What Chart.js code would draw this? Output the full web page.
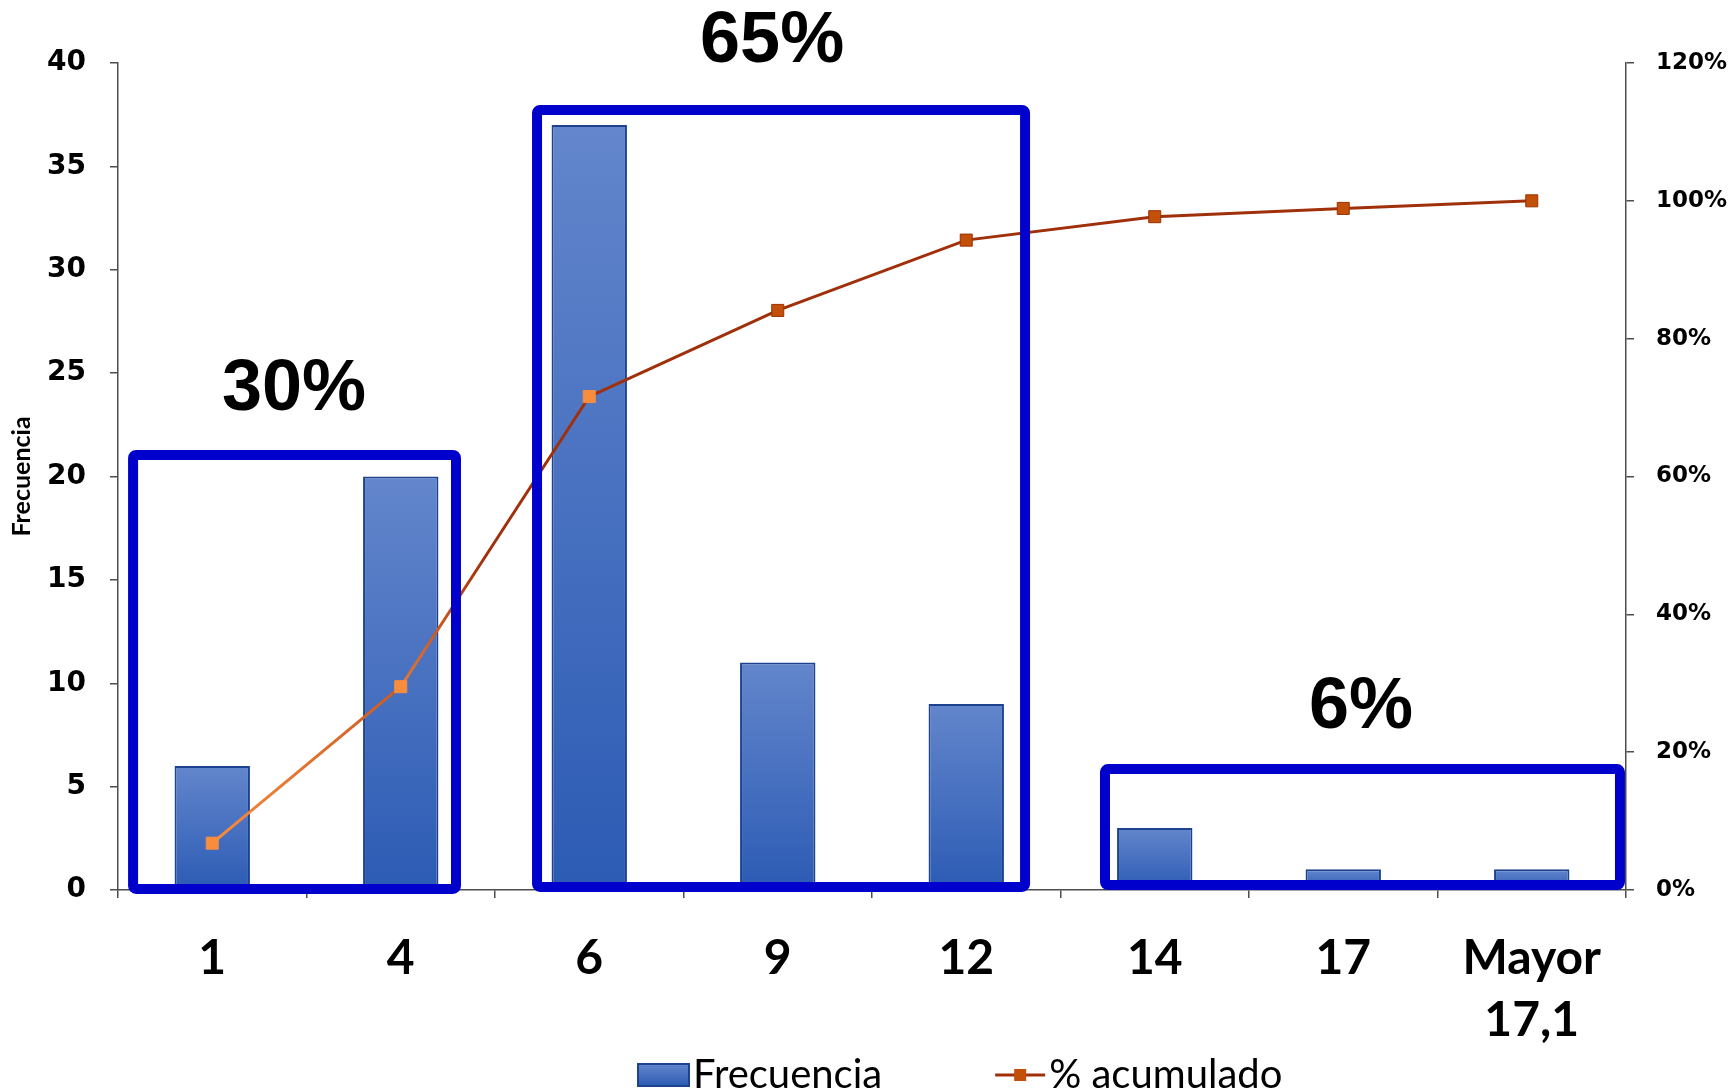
<!DOCTYPE html>
<html>
<head>
<meta charset="utf-8">
<script src="https://cdn.jsdelivr.net/npm/chart.js@4.4.1/dist/chart.umd.min.js"></script>
<style>
    html, body { margin: 0; padding: 0; background: #fff; }
</style>
</head>
<body>
<canvas id="pareto" width="1731" height="1091"></canvas>
<script>
// Datos del histograma
const clases = ['1', '4', '6', '9', '12', '14', '17', ['Mayor', '17,1']];
const frecuencia = [6, 20, 37, 11, 9, 3, 1, 1];
const acumulado = [0.068, 0.295, 0.716, 0.841, 0.943, 0.977, 0.989, 1.0];

// Escalas
const ejeFrecuencia = { min: 0, max: 40, paso: 5 };
const ejePorcentaje = { min: 0, max: 1.2, paso: 0.2 };

// Textos de los grupos marcados
const gruposTexto = ['30%', '65%', '6%'];

// Recuadros en unidades de las escalas (índice de clase / frecuencia)
const recuadros = [
    { desde: -0.42, hasta: 1.293, base: 0.05, alto: 21.04, textoX: 0.434, textoY: 24.2 },
    { desde: 1.723, hasta: 4.312, base: 0.15, alto: 37.73, textoX: 2.97, textoY: 41.0 },
    { desde: 4.736, hasta: 7.468, base: 0.24, alto: 5.85, textoX: 6.094, textoY: 8.8 }
];

// Colores
const azulClaro = '#6386cc';
const azulOscuro = '#2c5bb4';
const azulBorde = '#1d428f';
const naranja = '#f98d3e';
const marron = '#c24f0a';
const rojoLinea = '#a0300a';
const azulRecuadro = '#0000cc';

const ctx2d = document.getElementById('pareto').getContext('2d');

// Degradado vertical para cada barra
function colorBarra(context) {
    const chart = context.chart;
    if (!chart.chartArea || !chart.scales.y) return azulOscuro;
    const y = chart.scales.y;
    const top = y.getPixelForValue(context.raw);
    const bottom = y.getPixelForValue(0);
    if (!isFinite(top) || top === bottom) return azulOscuro;
    const g = chart.ctx.createLinearGradient(0, top, 0, bottom);
    g.addColorStop(0, azulClaro);
    g.addColorStop(1, azulOscuro);
    return g;
}

// Color de cada tramo de la línea
function colorTramo(seg) {
    const i = seg.p0DataIndex;
    if (i > 1) return rojoLinea;
    const g = ctx2d.createLinearGradient(seg.p0.x, seg.p0.y, seg.p1.x, seg.p1.y);
    if (i === 0) {
        g.addColorStop(0, naranja);
        g.addColorStop(1, '#c95a22');
    } else {
        g.addColorStop(0, '#e77a34');
        g.addColorStop(0.45, rojoLinea);
        g.addColorStop(1, rojoLinea);
    }
    return g;
}

// Recuadros azules, textos y leyenda
const recuadrosPlugin = {
    id: 'recuadros',
    afterDatasetsDraw(chart) {
        const { ctx, scales: { x, y } } = chart;
        ctx.save();
        recuadros.forEach((r, i) => {
            const x0 = x.getPixelForValue(r.desde);
            const x1 = x.getPixelForValue(r.hasta);
            const y0 = y.getPixelForValue(r.alto);
            const y1 = y.getPixelForValue(r.base);
            ctx.strokeStyle = azulRecuadro;
            ctx.lineWidth = 10;
            ctx.lineJoin = 'round';
            ctx.beginPath();
            if (ctx.roundRect) ctx.roundRect(x0, y0, x1 - x0, y1 - y0, 3);
            else ctx.rect(x0, y0, x1 - x0, y1 - y0);
            ctx.stroke();

            ctx.fillStyle = '#000';
            ctx.font = 'bold 72px "Liberation Sans", Arial, sans-serif';
            ctx.textAlign = 'center';
            ctx.textBaseline = 'middle';
            ctx.fillText(gruposTexto[i], x.getPixelForValue(r.textoX), y.getPixelForValue(r.textoY));
        });
        ctx.restore();
    },
    afterDraw(chart) {
        // Leyenda inferior
        const { ctx } = chart;
        const ds = chart.data.datasets;
        const barra = ds.find(d => d.type === 'bar');
        const linea = ds.find(d => d.type === 'line');
        const yc = 1075;
        let xs = 638;
        ctx.save();
        ctx.font = '40px Lato, "Open Sans", sans-serif';
        ctx.textBaseline = 'middle';
        ctx.textAlign = 'left';

        const g = ctx.createLinearGradient(0, yc - 11, 0, yc + 11);
        g.addColorStop(0, azulClaro);
        g.addColorStop(1, azulOscuro);
        ctx.fillStyle = g;
        ctx.fillRect(xs, yc - 11, 51, 22);
        ctx.strokeStyle = azulBorde;
        ctx.lineWidth = 2;
        ctx.strokeRect(xs, yc - 11, 51, 22);
        ctx.fillStyle = '#000';
        ctx.fillText(barra.label, xs + 55, yc);

        xs = xs + 55 + ctx.measureText(barra.label).width + 113;
        ctx.strokeStyle = rojoLinea;
        ctx.lineWidth = 3;
        ctx.beginPath();
        ctx.moveTo(xs, yc);
        ctx.lineTo(xs + 50, yc);
        ctx.stroke();
        ctx.fillStyle = marron;
        ctx.fillRect(xs + 19, yc - 6, 12, 12);
        ctx.fillStyle = '#000';
        ctx.fillText(linea.label, xs + 54, yc);
        ctx.restore();
    }
};

const colorEje = '#4d4d4d';

new Chart(ctx2d, {
    data: {
        labels: clases,
        datasets: [
            {
                type: 'line',
                label: '% acumulado',
                data: acumulado,
                yAxisID: 'y1',
                order: 0,
                borderColor: rojoLinea,
                borderWidth: 3,
                segment: { borderColor: colorTramo },
                pointStyle: 'rect',
                pointRadius: 8.5,
                pointBorderWidth: 1,
                pointBackgroundColor: c => c.dataIndex < 3 ? naranja : marron,
                pointBorderColor: c => c.dataIndex < 3 ? naranja : '#9b3200',
                tension: 0,
                fill: false
            },
            {
                type: 'bar',
                label: 'Frecuencia',
                data: frecuencia,
                yAxisID: 'y',
                order: 1,
                backgroundColor: colorBarra,
                borderColor: azulBorde,
                borderWidth: 2,
                categoryPercentage: 1,
                barPercentage: 0.4
            }
        ]
    },
    options: {
        responsive: false,
        animation: false,
        devicePixelRatio: 1,
        layout: { padding: { top: 63, left: 0, right: 0, bottom: 0 } },
        plugins: {
            legend: { display: false },
            tooltip: { enabled: false }
        },
        scales: {
            x: {
                type: 'category',
                offset: true,
                grid: { offset: true, drawOnChartArea: false, tickLength: 8, color: colorEje, lineWidth: 1.5 },
                border: { color: colorEje, width: 1.5 },
                ticks: {
                    color: '#000',
                    autoSkip: false,
                    maxRotation: 0,
                    padding: 29,
                    font: { family: 'Lato', weight: 'bold', size: 48, lineHeight: 1.3 }
                },
                afterFit: s => { s.height = 201; }
            },
            y: {
                position: 'left',
                min: ejeFrecuencia.min,
                max: ejeFrecuencia.max,
                grid: { drawOnChartArea: false, tickLength: 8, color: colorEje, lineWidth: 1.5 },
                border: { color: colorEje, width: 1.5 },
                ticks: {
                    stepSize: ejeFrecuencia.paso,
                    color: '#000',
                    padding: 24,
                    font: { family: '"DejaVu Sans"', weight: 'bold', size: 28 }
                },
                title: {
                    display: true,
                    text: 'Frecuencia',
                    color: '#000',
                    padding: { top: 7, bottom: 0 },
                    font: { family: 'Lato', weight: 'bold', size: 25 }
                },
                afterFit: s => { s.width = 118; }
            },
            y1: {
                position: 'right',
                min: ejePorcentaje.min,
                max: ejePorcentaje.max,
                grid: { drawOnChartArea: false, tickLength: 8, color: colorEje, lineWidth: 1.5 },
                border: { color: colorEje, width: 1.5 },
                ticks: {
                    stepSize: ejePorcentaje.paso,
                    color: '#000',
                    padding: 22,
                    font: { family: '"DejaVu Sans"', weight: 'bold', size: 23 },
                    callback: v => Math.round(v * 100) + '%'
                },
                afterFit: s => { s.width = 105; }
            }
        }
    },
    plugins: [recuadrosPlugin]
});
</script>
</body>
</html>
